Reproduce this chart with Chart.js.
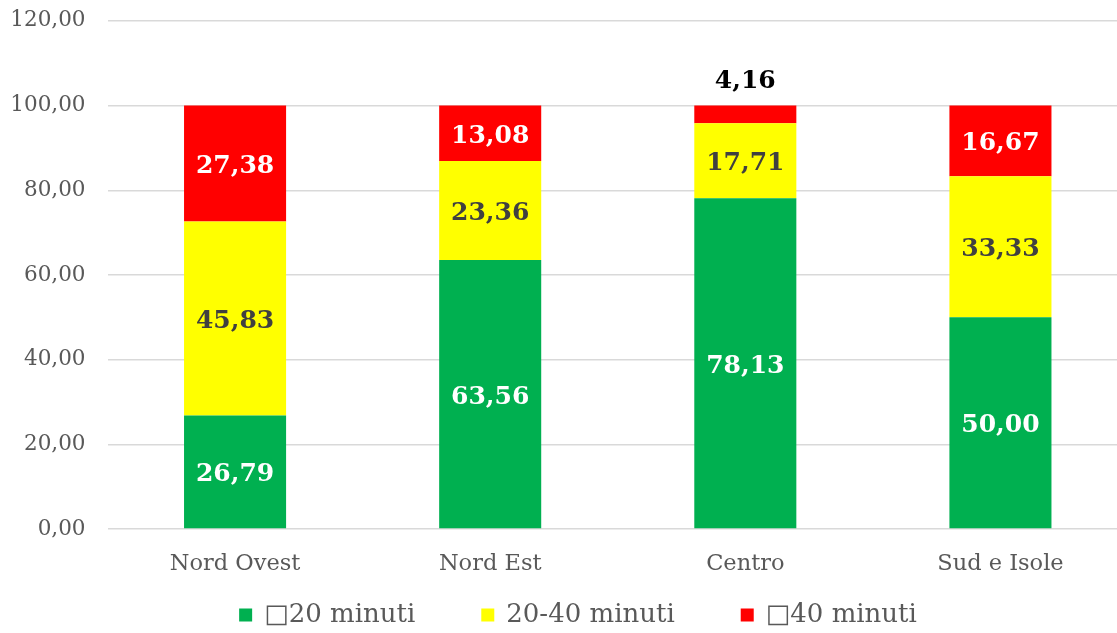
<!DOCTYPE html>
<html>
<head>
<meta charset="utf-8">
<script src="https://cdn.jsdelivr.net/npm/chart.js@4/dist/chart.umd.min.js"></script>
<style>
  html, body { margin: 0; padding: 0; background: #ffffff; overflow: hidden; }
  #wrap { width: 1128px; height: 647px; margin-top: -14px; }
</style>
</head>
<body>
<div id="wrap"><canvas id="c" width="1128" height="647"></canvas></div>
<script>
// Regions and shares of travel time (percent), stacked to 100
const categories = ['Nord Ovest', 'Nord Est', 'Centro', 'Sud e Isole'];
const seriesNames = ['\u25A120 minuti', '20-40 minuti', '\u25A140 minuti'];
const upTo20 = [26.79, 63.56, 78.13, 50.00];
const from20to40 = [45.83, 23.36, 17.71, 33.33];
const over40 = [27.38, 13.08, 4.16, 16.67];
const yTicks = [0, 20, 40, 60, 80, 100, 120];

const FONT = "'DejaVu Serif', Georgia, serif";
const fmt = v => v.toFixed(2).replace('.', ',');

// Value labels inside each segment; too-thin segments get the label above the bar
const valueLabels = {
  id: 'valueLabels',
  afterDatasetsDraw(chart) {
    const ctx = chart.ctx;
    ctx.save();
    ctx.font = 'bold 25px ' + FONT;
    ctx.textAlign = 'center';
    ctx.textBaseline = 'middle';
    chart.data.datasets.forEach((ds, di) => {
      const meta = chart.getDatasetMeta(di);
      meta.data.forEach((bar, i) => {
        const v = ds.data[i];
        const h = Math.abs(bar.base - bar.y);
        if (h < 30) {
          ctx.fillStyle = '#000000';
          ctx.fillText(fmt(v), bar.x, Math.min(bar.y, bar.base) - 24);
        } else {
          ctx.fillStyle = ds.labelColor;
          ctx.fillText(fmt(v), bar.x, (bar.y + bar.base) / 2 + 3);
        }
      });
    });
    ctx.restore();
  }
};

// Legend row drawn under the axis
const bottomLegend = {
  id: 'bottomLegend',
  afterDraw(chart) {
    const ctx = chart.ctx;
    ctx.save();
    ctx.font = '26px ' + FONT;
    ctx.textBaseline = 'middle';
    const box = 13, gapText = 12, gapItem = 66, cy = 629;
    const items = chart.data.datasets.map(ds => ({ text: ds.label, color: ds.backgroundColor, w: ctx.measureText(ds.label).width }));
    const total = items.reduce((s, it) => s + box + gapText + it.w, 0) + gapItem * (items.length - 1);
    let x = 578 - total / 2;
    items.forEach(it => {
      ctx.fillStyle = it.color;
      ctx.fillRect(x, cy - box / 2, box, box);
      ctx.fillStyle = '#595959';
      ctx.textAlign = 'left';
      ctx.fillText(it.text, x + box + gapText, cy);
      x += box + gapText + it.w + gapItem;
    });
    ctx.restore();
  }
};

new Chart(document.getElementById('c'), {
  type: 'bar',
  data: {
    labels: categories,
    datasets: [
      { label: seriesNames[0], data: upTo20, backgroundColor: '#00B050', labelColor: '#ffffff' },
      { label: seriesNames[1], data: from20to40, backgroundColor: '#FFFF00', labelColor: '#404040' },
      { label: seriesNames[2], data: over40, backgroundColor: '#FF0000', labelColor: '#ffffff' }
    ]
  },
  options: {
    responsive: false,
    animation: false,
    events: [],
    layout: { padding: { top: 7, right: 0, bottom: 0, left: 0 } },
    datasets: { bar: { categoryPercentage: 1, barPercentage: 0.4, borderWidth: 0 } },
    plugins: { legend: { display: false }, tooltip: { enabled: false } },
    scales: {
      x: {
        stacked: true,
        grid: { display: false },
        border: { display: false },
        ticks: { color: '#595959', font: { family: FONT, size: 22.5 }, padding: 14 },
        afterFit(scale) { scale.height = 647 - 543; }
      },
      y: {
        stacked: true,
        min: 0,
        max: 120,
        afterBuildTicks(scale) { scale.ticks = yTicks.map(v => ({ value: v })); },
        grid: { color: '#d9d9d9', lineWidth: 1.5, drawTicks: false },
        border: { display: false },
        ticks: { color: '#595959', font: { family: FONT, size: 21.5 }, padding: 22, callback: v => fmt(v) },
        afterFit(scale) { scale.width = 107.5; }
      }
    }
  },
  plugins: [valueLabels, bottomLegend]
});
</script>
</body>
</html>
